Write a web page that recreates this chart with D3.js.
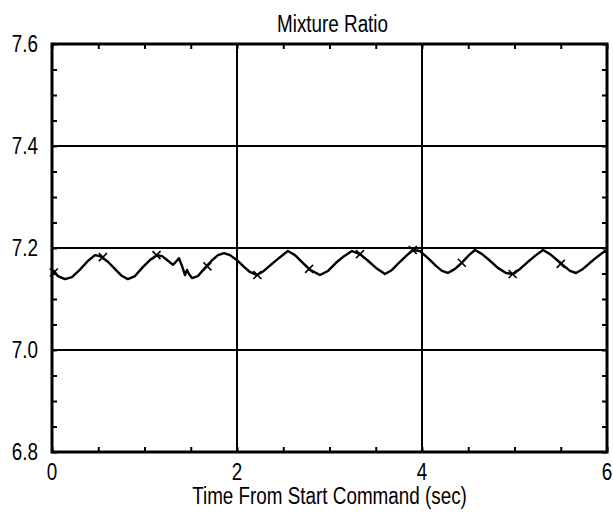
<!DOCTYPE html>
<html>
<head>
<meta charset="utf-8">
<script src="https://cdn.jsdelivr.net/npm/d3@7"></script>
<style>
  html, body { margin: 0; padding: 0; background: #fff; }
  svg { display: block; }
  text { font-family: "Liberation Sans", Arial, Helvetica, sans-serif; fill: #000; }
</style>
</head>
<body>
<svg id="chart" width="613" height="517"></svg>
<script>
// Mixture ratio trace (time in seconds, ratio value)
const time = [0.01, 0.065, 0.14, 0.216, 0.30, 0.39, 0.465, 0.52, 0.605, 0.69, 0.757, 0.82, 0.897, 0.984,
  1.07, 1.135, 1.19, 1.254, 1.308, 1.34, 1.373, 1.405, 1.438, 1.46, 1.48, 1.514, 1.578, 1.654, 1.73, 1.795,
  1.86, 1.924, 2.0, 2.076, 2.14, 2.216, 2.29, 2.378, 2.465, 2.55, 2.627, 2.70, 2.79, 2.897, 2.984, 3.07,
  3.157, 3.243, 3.33, 3.416, 3.503, 3.6, 3.676, 3.762, 3.838, 3.903, 3.978, 4.065, 4.151, 4.216, 4.28,
  4.357, 4.43, 4.508, 4.573, 4.65, 4.735, 4.82, 4.908, 4.984, 5.06, 5.146, 5.232, 5.308, 5.384, 5.47,
  5.535, 5.6, 5.665, 5.74, 5.816, 5.903, 5.978, 6.0];
const ratio = [7.157, 7.145, 7.139, 7.143, 7.157, 7.175, 7.186, 7.184, 7.173, 7.157, 7.145, 7.139, 7.145, 7.163,
  7.178, 7.186, 7.184, 7.175, 7.167, 7.173, 7.180, 7.165, 7.147, 7.157, 7.149, 7.141, 7.145, 7.161, 7.176, 7.186,
  7.190, 7.186, 7.176, 7.163, 7.153, 7.147, 7.155, 7.169, 7.182, 7.194, 7.186, 7.173, 7.157, 7.147, 7.155, 7.171,
  7.184, 7.194, 7.188, 7.175, 7.161, 7.149, 7.157, 7.173, 7.186, 7.196, 7.194, 7.180, 7.165, 7.155, 7.151,
  7.159, 7.171, 7.186, 7.196, 7.188, 7.175, 7.161, 7.151, 7.149, 7.159, 7.173, 7.186, 7.196, 7.188, 7.175,
  7.165, 7.155, 7.151, 7.159, 7.171, 7.184, 7.194, 7.192];

// Sample markers drawn on the trace
const markerTime = [0.02, 0.55, 1.13, 1.68, 2.22, 2.78, 3.33, 3.90, 4.43, 4.98, 5.50];
const markerRatio = [7.152, 7.182, 7.186, 7.164, 7.147, 7.159, 7.188, 7.196, 7.171, 7.149, 7.169];

// Axis labelling
const xTickLabels = [0, 2, 4, 6];
const yTickLabels = [6.8, 7.0, 7.2, 7.4, 7.6];
const xGrid = [2, 4];
const yGrid = [7.0, 7.2, 7.4];
const xMinor = d3.range(0, 6.001, 0.5);
const yMinor = d3.range(6.8, 7.6001, 0.05);

const title = "Mixture Ratio";
const xTitle = "Time From Start Command (sec)";

const W = 613, H = 517;
const margin = { top: 44, right: 6, bottom: 65, left: 52 };
const iw = W - margin.left - margin.right;
const ih = H - margin.top - margin.bottom;

// Condensed sans lettering: regular face squeezed horizontally
const FONT_SIZE = 23;
const SQUEEZE = 0.82;

const svg = d3.select("#chart");
const g = svg.append("g").attr("transform", `translate(${margin.left},${margin.top})`);

const x = d3.scaleLinear().domain([0, 6]).range([0, iw]);
const y = d3.scaleLinear().domain([6.8, 7.6]).range([ih, 0]);

// Grid lines
g.selectAll(".vgrid").data(xGrid).join("line")
  .attr("x1", d => x(d)).attr("x2", d => x(d))
  .attr("y1", 0).attr("y2", ih)
  .attr("stroke", "#000").attr("stroke-width", 2);
g.selectAll(".hgrid").data(yGrid).join("line")
  .attr("x1", 0).attr("x2", iw)
  .attr("y1", d => y(d)).attr("y2", d => y(d))
  .attr("stroke", "#000").attr("stroke-width", 2);

// Inward minor ticks on all four sides
const tickLen = 5;
const bottomAxis = d3.axisBottom(x).tickValues(xMinor).tickSize(-tickLen).tickFormat("");
const topAxis = d3.axisTop(x).tickValues(xMinor).tickSize(-tickLen).tickFormat("");
const leftAxis = d3.axisLeft(y).tickValues(yMinor).tickSize(-tickLen).tickFormat("");
const rightAxis = d3.axisRight(y).tickValues(yMinor).tickSize(-tickLen).tickFormat("");

function styleAxis(sel) {
  sel.select(".domain").remove();
  sel.selectAll(".tick line").attr("stroke", "#000").attr("stroke-width", 2);
}
g.append("g").attr("transform", `translate(0,${ih})`).call(bottomAxis).call(styleAxis);
g.append("g").call(topAxis).call(styleAxis);
g.append("g").call(leftAxis).call(styleAxis);
g.append("g").attr("transform", `translate(${iw},0)`).call(rightAxis).call(styleAxis);

// Frame
g.append("rect")
  .attr("x", 0).attr("y", 0).attr("width", iw).attr("height", ih)
  .attr("fill", "none").attr("stroke", "#000").attr("stroke-width", 3);

// Trace
const pts = time.map((t, i) => [t, ratio[i]]);
const line = d3.line().x(d => x(d[0])).y(d => y(d[1])).curve(d3.curveLinear);
g.append("path").datum(pts)
  .attr("d", line)
  .attr("fill", "none").attr("stroke", "#000")
  .attr("stroke-width", 2.4).attr("stroke-linejoin", "round");

// Cross markers
const m = 4;
const marks = markerTime.map((t, i) => [t, markerRatio[i]]);
const mg = g.selectAll(".mark").data(marks).join("g")
  .attr("transform", d => `translate(${x(d[0])},${y(d[1])})`);
mg.append("line").attr("x1", -m).attr("y1", -m).attr("x2", m).attr("y2", m)
  .attr("stroke", "#000").attr("stroke-width", 1.6);
mg.append("line").attr("x1", -m).attr("y1", m).attr("x2", m).attr("y2", -m)
  .attr("stroke", "#000").attr("stroke-width", 1.6);

// Places a squeezed text label at (px, py)
function label(parent, px, py, str, anchor, dy) {
  return parent.append("text")
    .attr("transform", `translate(${px},${py}) scale(${SQUEEZE},1)`)
    .attr("text-anchor", anchor)
    .attr("dy", dy || 0)
    .attr("font-size", FONT_SIZE)
    .text(str);
}

// Tick labels
xTickLabels.forEach(d => label(g, x(d), ih + 28, d3.format("d")(d), "middle"));
yTickLabels.forEach(d => label(g, -14, y(d), d3.format(".1f")(d), "end", "0.36em"));

// Titles
label(svg, margin.left + iw / 2 + 3, 32, title, "middle");
label(svg, margin.left + iw / 2, 504, xTitle, "middle");
</script>
</body>
</html>
